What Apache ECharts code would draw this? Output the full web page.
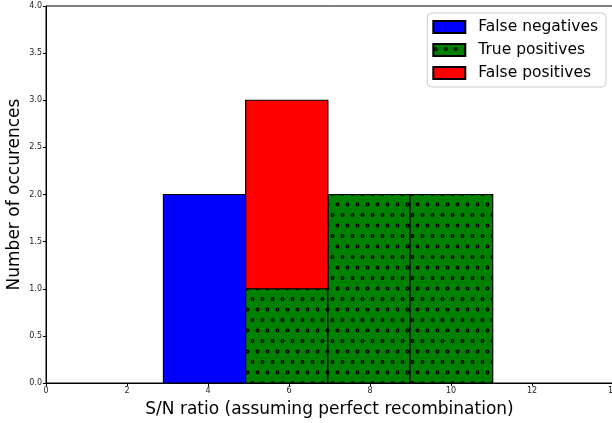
<!DOCTYPE html>
<html>
<head>
<meta charset="utf-8">
<script src="https://cdn.jsdelivr.net/npm/echarts@6/dist/echarts.min.js"></script>
<style>
html,body{margin:0;padding:0;background:#fff;}
#chart{width:612px;height:423px;}
</style>
</head>
<body>
<div id="chart"></div>
<script>
// Data
const binEdges = [2.9, 4.93, 6.96, 8.99, 11.03];
const seriesNames = ['False negatives', 'True positives', 'False positives'];
const falseNegatives = [2, 0, 0, 0];
const truePositives = [0, 1, 2, 2];
const falsePositives = [0, 2, 0, 0];
const xTicks = [0, 2, 4, 6, 8, 10, 12, 14];
const yTicks = [0, 0.5, 1, 1.5, 2, 2.5, 3, 3.5, 4];

// dotted pattern for true positives
const tile = document.createElement('canvas');
tile.width = 10; tile.height = 21;
const ctx = tile.getContext('2d');
ctx.fillStyle = '#008000';
ctx.fillRect(0, 0, 10, 21);
ctx.strokeStyle = '#000';
ctx.lineWidth = 1.3;
[[2.5, 5], [7.5, 15.5]].forEach(([cx, cy]) => {
  ctx.beginPath(); ctx.arc(cx, cy, 1.3, 0, Math.PI * 2); ctx.stroke();
});
const dotPattern = { image: tile, repeat: 'repeat' };

const fills = ['#0000ff', dotPattern, '#ff0000'];
const allCounts = [falseNegatives, truePositives, falsePositives];

// stacked rectangles
const bottoms = binEdges.slice(0, -1).map(() => 0);
const seriesData = allCounts.map(counts => {
  const d = [];
  counts.forEach((c, i) => {
    if (c > 0) d.push([binEdges[i], binEdges[i + 1], bottoms[i], bottoms[i] + c]);
    bottoms[i] += c;
  });
  return d;
});

const chart = echarts.init(document.getElementById('chart'), null, { renderer: 'canvas' });
const font = 'DejaVu Sans';
chart.setOption({
  animation: false,
  grid: { left: 46, right: -1, top: 6, bottom: 40, show: true, borderColor: '#000', borderWidth: 1,
          containLabel: false, outerBoundsMode: 'none' },
  xAxis: {
    type: 'value', min: xTicks[0], max: xTicks[xTicks.length - 1], interval: 2,
    name: 'S/N ratio (assuming perfect recombination)', nameLocation: 'middle', nameGap: 18,
    nameMoveOverlap: false,
    nameTextStyle: { fontFamily: font, fontSize: 17, color: '#000' },
    axisLine: { lineStyle: { color: '#000', width: 1 } },
    axisTick: { show: true, length: 3, lineStyle: { color: '#000' } },
    axisLabel: { fontFamily: font, fontSize: 8, color: '#222', margin: 4 },
    splitLine: { show: false }
  },
  yAxis: {
    type: 'value', min: yTicks[0], max: yTicks[yTicks.length - 1], interval: 0.5,
    name: 'Number of occurences', nameLocation: 'middle', nameGap: 23, nameRotate: 90,
    nameMoveOverlap: false,
    nameTextStyle: { fontFamily: font, fontSize: 17, color: '#000' },
    axisLine: { show: true, lineStyle: { color: '#000', width: 1 } },
    axisTick: { show: true, length: 3, lineStyle: { color: '#000' } },
    axisLabel: { fontFamily: font, fontSize: 8, color: '#222', margin: 4, formatter: v => v.toFixed(1) },
    splitLine: { show: false }
  },
  legend: {
    orient: 'vertical', right: 6, top: 13,
    data: seriesNames,
    icon: 'rect',
    itemWidth: 32, itemHeight: 12, itemGap: 5,
    padding: [5, 8, 5, 5],
    borderColor: '#ccc', borderWidth: 1, borderRadius: 4,
    backgroundColor: '#fff',
    textStyle: { fontFamily: font, fontSize: 15.5, color: '#000', padding: [0, 0, 0, 8], lineHeight: 18 }
  },
  series: seriesNames.map((name, k) => ({
    type: 'custom', name: name,
    itemStyle: { color: fills[k], borderColor: '#000', borderWidth: 1 },
    encode: { x: [0, 1], y: [2, 3] },
    data: seriesData[k],
    renderItem: (params, api) => {
      const p0 = api.coord([api.value(0), api.value(3)]);
      const p1 = api.coord([api.value(1), api.value(2)]);
      return {
        type: 'rect',
        shape: { x: p0[0], y: p0[1], width: p1[0] - p0[0], height: p1[1] - p0[1] },
        style: { fill: fills[k], stroke: '#000', lineWidth: 1.2 }
      };
    }
  }))
});
</script>
</body>
</html>
